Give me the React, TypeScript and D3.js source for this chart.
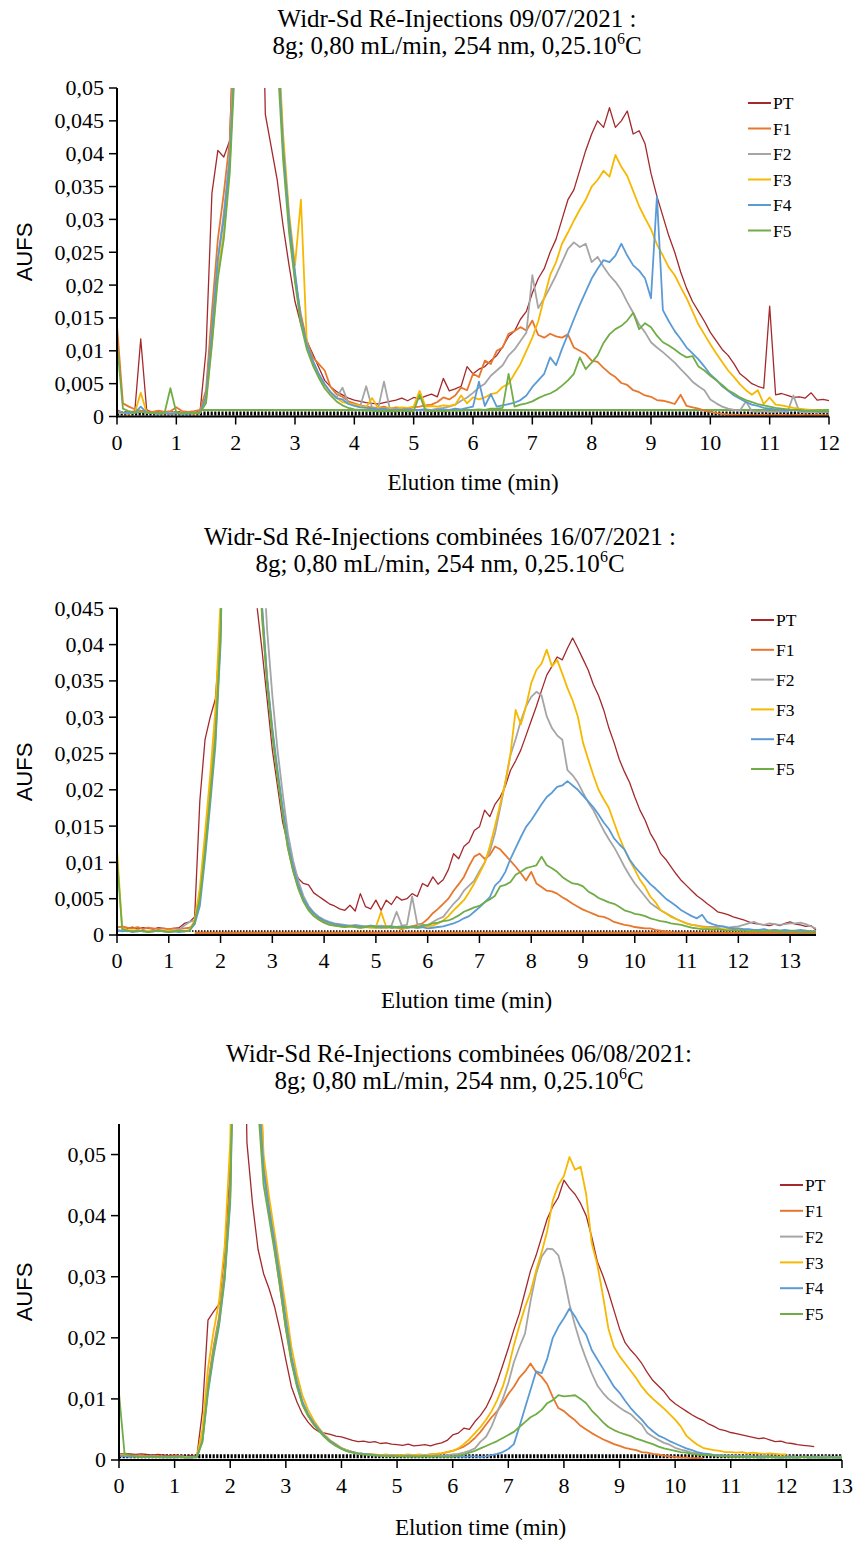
import React from 'react';
import * as d3 from 'd3';

// Chromatograms, AUFS in units of 10^-3, one reading every 0.1 min from t = 0
const seriesNames = ['PT', 'F1', 'F2', 'F3', 'F4', 'F5'];
const seriesColors = ['#a3292c', '#e8772e', '#a5a5a5', '#f6b800', '#5b9bd5', '#70ad47'];
const step = 0.1;

// ---- 09/07/2021 ----
const p1PT = [
  1.0, 0.6, 0.7, 0.8, 11.8, 1.0, 0.6, 0.7, 0.5, 0.6, 0.7, 0.6, 0.5, 0.6, 0.7,
  10, 34, 40.5, 39.5, 42, 70, 120, 150, 150, 90, 46, 41, 36, 29, 23, 17.5,
  14, 11.5, 9.5, 7.5, 5.5, 4.5, 3.8, 3.3, 2.8, 2.5, 2.3, 2.1, 2.0, 1.9, 2.1, 2.3, 2.5, 2.8, 2.4, 2.9,
  2.7, 3.1, 3.4, 3.0, 5.8, 3.9, 4.2, 4.6, 7.6, 6.5, 7.2, 7.6, 8.5, 9.3, 10.6, 12.2, 13.0, 14.8, 16.0, 18.8,
  21.0, 22.5, 25.0, 27.0, 30.0, 33.0, 34.5, 37.5, 40.5, 43.0, 45.0, 44.0, 47.0, 44.0, 45.0, 46.5, 43.0, 43.5, 41.5, 37.0,
  33.5, 30.5, 27.5, 25.0, 22.0, 19.5, 17.5, 16.0, 14.5, 12.8, 11.5, 10.2, 9.3, 8.0, 6.5, 5.8, 5.0, 4.6, 4.3, 16.8,
  3.3, 3.5, 3.2, 2.9, 3.0, 2.8, 3.6, 2.5, 2.6, 2.4,
];
const p1F1 = [
  13.8, 2.0, 1.5, 1.1, 0.9, 0.8, 0.7, 0.9, 0.7, 0.8, 1.4, 0.8, 0.7, 0.8, 1.0,
  4, 16, 27, 34, 42, 65, 150, 150, 150, 150, 150, 130, 60, 41, 29.5, 21,
  15.5, 11.5, 9.0, 8.0, 7.0, 4.5, 3.4, 3.0, 2.3, 2.0, 1.7, 1.5, 1.4, 1.3, 1.5, 1.2, 1.4, 1.3, 1.2, 1.4,
  1.5, 1.7, 1.8, 2.2, 2.9, 2.6, 3.2, 4.4, 4.0, 6.5, 6.0, 8.5, 8.0, 10.0, 10.5, 12.6, 13.0, 13.6, 13.1, 14.6,
  12.4, 12.0, 12.6, 12.2, 12.0, 12.5, 10.5, 10.0, 9.5, 8.5, 8.3, 7.4, 6.6, 6.0, 5.1, 4.8, 4.0, 3.7, 3.2, 3.0,
  2.5, 2.4, 2.2, 1.9, 3.3, 1.6, 1.4, 1.2, 0.9, 0.7, 0.5, 0.4, 0.3, 0.3, 0.2, 0.3, 0.2, 0.2, 0.3, 0.2,
  0.2, 0.3, 0.2, 0.2, 0.3, 0.2, 0.2, 0.3, 0.2, 0.2,
];
const p1F2 = [
  0.8, 0.6, 0.5, 0.6, 0.7, 0.6, 0.5, 0.6, 0.5, 0.6, 0.5, 0.6, 0.5, 0.6, 0.6,
  3, 13, 24, 31, 40, 60, 150, 150, 150, 150, 150, 85, 57, 41, 30, 21.5,
  14.5, 10.8, 8.3, 6.4, 4.9, 3.7, 2.9, 4.4, 2.0, 1.8, 1.6, 4.6, 1.3, 1.2, 5.3, 1.1, 1.0, 1.0, 0.9, 1.0,
  1.0, 1.1, 1.0, 1.2, 1.3, 1.5, 1.8, 2.4, 2.9, 3.6, 4.4, 5.0, 6.2, 7.0, 7.8, 9.3, 10.2, 11.5, 12.8, 21.5,
  16.5, 18.0, 19.7, 21.5, 23.5, 25.5, 26.5, 25.8, 26.3, 23.5, 24.3, 22.8, 21.5, 20.5, 19.2, 17.4, 15.8, 14.0, 12.8, 11.3,
  10.5, 9.8, 9.0, 8.2, 7.2, 6.3, 5.3, 4.6, 4.0, 2.6, 2.0, 1.5, 1.2, 1.0, 0.9, 2.3, 0.8, 0.7, 0.8, 0.7,
  0.7, 0.8, 0.7, 3.2, 0.7, 0.6, 0.7, 0.6, 0.7, 0.6,
];
const p1F3 = [
  0.6, 0.5, 0.4, 0.6, 3.6, 0.6, 0.5, 0.4, 0.5, 0.4, 0.5, 0.4, 0.5, 0.4, 0.5,
  2.5, 11, 22, 28, 38, 60, 150, 150, 150, 150, 150, 90, 60, 43, 31, 23,
  33.0, 11.0, 8.5, 6.4, 4.8, 3.6, 2.8, 2.2, 2.0, 1.8, 1.6, 1.4, 2.8, 1.3, 1.2, 1.3, 1.2, 1.4, 1.3, 1.5,
  3.9, 1.5, 1.6, 1.5, 1.7, 1.6, 1.8, 3.2, 2.0, 2.9, 2.6, 2.9, 3.4, 3.6, 4.5, 5.0, 6.5, 8.0, 10.0, 12.0,
  14.5, 18.1, 21.5, 23.5, 26.3, 28.0, 29.8, 31.5, 33.0, 35.0, 36.0, 37.4, 36.5, 39.8, 38.0, 36.6, 34.3, 32.0, 30.2, 28.5,
  26.2, 24.5, 22.7, 21.5, 19.7, 18.0, 16.0, 14.0, 12.5, 11.0, 9.6, 8.3, 7.0, 6.0, 4.9, 4.0, 3.3, 4.0, 1.9, 2.9,
  1.8, 1.7, 1.5, 1.3, 1.2, 1.1, 1.0, 0.9, 0.9, 0.8,
];
const p1F4 = [
  0.7, 0.6, 0.5, 0.6, 1.5, 0.6, 0.5, 0.4, 0.5, 0.4, 0.5, 0.4, 0.4, 0.5, 0.5,
  3, 13, 24, 30, 39, 58, 150, 150, 150, 150, 150, 85, 58, 41, 30, 22,
  14.8, 11.0, 8.5, 6.5, 4.9, 3.7, 2.8, 2.6, 1.9, 1.6, 1.4, 1.3, 1.2, 1.1, 1.2, 1.0, 1.1, 1.0, 1.1, 1.0,
  1.0, 1.1, 0.9, 1.0, 1.1, 1.0, 1.2, 1.1, 1.3, 1.5, 5.3, 1.6, 3.4, 1.5, 1.7, 1.9, 2.1, 2.5, 3.2, 4.5,
  5.5, 6.5, 9.0, 7.8, 10.3, 12.5, 14.8, 17.0, 19.0, 21.0, 22.5, 23.8, 23.5, 24.5, 26.3, 24.5, 23.0, 22.2, 21.0, 18.0,
  33.5, 16.2, 14.5, 13.0, 11.8, 10.5, 9.6, 8.7, 7.6, 6.4, 5.6, 4.6, 3.9, 3.2, 2.7, 2.2, 1.8, 1.6, 1.3, 1.2,
  1.1, 1.0, 0.9, 1.0, 0.9, 0.8, 0.9, 0.8, 0.8, 0.7,
];
const p1F5 = [
  11.2, 1.2, 0.8, 0.6, 0.7, 0.6, 0.5, 0.6, 0.5, 4.3, 0.6, 0.5, 0.6, 0.5, 0.6,
  2, 11, 21, 27, 37, 56, 150, 150, 150, 150, 150, 80, 55, 39, 28, 20.5,
  14.0, 10.2, 7.8, 5.9, 4.3, 3.2, 2.3, 1.7, 1.3, 1.1, 1.0, 0.9, 0.9, 0.8, 0.8, 0.8, 0.8, 0.9, 0.8, 0.8,
  3.3, 0.9, 0.8, 0.9, 0.8, 0.9, 0.9, 0.9, 1.0, 1.0, 1.1, 1.0, 1.2, 1.2, 1.3, 6.5, 1.5, 1.8, 2.0, 2.3,
  2.8, 3.2, 3.5, 4.0, 4.7, 5.5, 6.5, 9.0, 7.2, 8.2, 9.3, 11.2, 12.5, 13.3, 13.8, 14.6, 15.8, 13.3, 14.2, 13.6,
  12.3, 11.3, 10.8, 10.2, 9.5, 9.0, 9.2, 7.6, 7.0, 6.2, 5.5, 4.8, 4.0, 3.5, 2.9, 2.5, 2.2, 1.9, 1.7, 1.5,
  1.3, 1.2, 1.1, 1.0, 1.0, 0.9, 0.9, 0.8, 0.8, 0.8,
];

// ---- 16/07/2021 ----
const p2PT = [
  1.0, 1.2, 0.9, 1.1, 0.8, 1.0, 0.9, 0.8, 1.0, 0.9, 0.8, 0.9, 1.0, 1.6, 1.8,
  2.5, 18.5, 26.9, 30.0, 32.5, 42, 80, 150, 150, 150, 150, 70, 45.5, 39.3, 32.4, 25.5,
  20.5, 15.5, 12.5, 9.5, 7.8, 7.1, 6.9, 5.8, 5.3, 4.8, 4.3, 4.0, 3.6, 3.4, 4.1, 3.3, 5.7, 3.9, 3.6, 4.8,
  3.4, 4.8, 4.2, 5.3, 4.8, 5.0, 5.7, 5.3, 7.1, 6.7, 8.0, 7.0, 7.6, 9.0, 11.2, 10.5, 12.2, 12.8, 14.4, 14.9,
  17.2, 16.3, 18.0, 19.0, 20.5, 22.7, 24.0, 25.5, 27.5, 29.5, 31.5, 33.7, 35.8, 37.0, 38.3, 37.9, 39.5, 40.9, 39.5, 38.0,
  36.5, 34.5, 33.0, 31.0, 28.5, 26.5, 24.2, 22.5, 21.0, 19.0, 17.2, 15.8, 14.0, 12.8, 11.2, 10.4, 9.4, 8.4, 7.5, 6.8,
  6.1, 5.4, 4.9, 4.3, 3.8, 3.2, 3.0, 2.8, 2.5, 2.3, 2.1, 1.8, 1.6, 1.5, 1.4, 1.3, 1.5, 1.3, 1.6, 1.8,
  1.5, 1.4, 1.2, 1.3, 0.7,
];
const p2F1 = [
  1.0, 1.2, 1.0, 0.9, 1.1, 0.8, 1.0, 0.9, 0.8, 0.9, 0.8, 0.9, 0.8, 0.9, 1.0,
  1.5, 5, 12, 20, 28.5, 43, 80, 150, 150, 150, 150, 110, 62, 45, 35, 28,
  22.0, 17.0, 12.0, 9.0, 6.6, 4.8, 3.6, 2.8, 2.3, 1.8, 1.5, 1.4, 1.3, 1.2, 1.3, 1.2, 1.1, 1.2, 1.1, 1.0,
  1.1, 1.0, 1.1, 1.0, 0.8, 1.0, 1.2, 1.4, 1.6, 2.2, 3.0, 3.6, 4.3, 5.0, 6.1, 7.0, 8.0, 9.5, 10.8, 11.2,
  10.5, 11.0, 12.2, 11.8, 11.0, 10.2, 9.4, 8.5, 7.5, 8.7, 7.1, 6.6, 6.1, 6.0, 5.7, 5.2, 4.8, 4.3, 3.9, 3.5,
  3.2, 2.9, 2.6, 2.5, 2.2, 1.8, 1.6, 1.4, 1.3, 1.1, 1.0, 0.9, 0.9, 0.7, 0.6, 0.5, 0.4, 0.3, 0.3, 0.2,
  0.2, 0.3, 0.2, 0.2, 0.3, 0.2, 0.2, 0.3, 0.2, 0.2, 0.3, 0.2, 0.2, 0.3, 0.2, 0.2, 0.3, 0.2, 0.2, 0.2,
  0.2, 0.3, 0.2, 0.2, 0.2,
];
const p2F2 = [
  0.7, 0.6, 0.5, 0.6, 0.5, 0.6, 0.5, 0.6, 0.5, 0.6, 0.5, 0.6, 0.7, 1.3, 1.8,
  2, 5, 12, 19.5, 28, 42, 80, 150, 150, 150, 150, 150, 100, 55, 42, 33,
  25.5, 19.5, 14.0, 10.3, 7.5, 5.4, 4.0, 3.1, 2.5, 2.1, 1.8, 1.6, 1.5, 1.4, 1.3, 1.4, 1.3, 1.2, 1.3, 1.2,
  1.3, 1.2, 1.3, 3.2, 1.3, 1.4, 5.3, 1.5, 1.4, 1.3, 1.8, 2.2, 2.5, 3.4, 4.3, 5.0, 6.1, 6.8, 7.5, 8.8,
  10.0, 11.5, 14.0, 17.5, 21.0, 24.8, 27.0, 29.5, 31.5, 32.8, 33.5, 33.0, 30.1, 28.5, 27.5, 26.9, 22.7, 22.0, 21.0, 19.6,
  18.3, 17.2, 15.8, 14.4, 13.2, 12.1, 10.8, 9.4, 8.2, 7.1, 6.2, 5.3, 4.4, 3.9, 3.4, 3.0, 2.6, 2.2, 1.9, 1.6,
  1.4, 1.3, 1.2, 1.1, 1.1, 1.1, 1.2, 1.0, 1.1, 1.2, 1.4, 1.6, 1.8, 1.5, 1.4, 1.6, 1.5, 1.4, 1.5, 1.6,
  1.6, 1.7, 1.5, 1.2, 0.9,
];
const p2F3 = [
  11.7, 1.0, 0.7, 0.6, 0.7, 0.5, 0.6, 0.5, 0.6, 0.5, 0.6, 0.5, 0.6, 0.5, 0.7,
  2, 6.5, 14, 22, 31, 46, 85, 150, 150, 150, 150, 110, 60, 44, 35, 28,
  22.0, 17.0, 12.2, 9.0, 6.5, 4.7, 3.5, 2.7, 2.1, 1.7, 1.5, 1.3, 1.2, 1.1, 1.2, 1.1, 1.0, 1.1, 1.0, 1.1,
  3.2, 1.1, 1.0, 1.1, 0.9, 1.0, 1.1, 1.0, 1.1, 1.2, 1.3, 1.6, 2.0, 2.6, 3.4, 4.1, 4.8, 5.9, 7.1, 8.5,
  9.9, 12.2, 15.0, 18.0, 21.0, 25.0, 31.0, 29.0, 31.5, 34.7, 36.5, 37.4, 39.3, 37.0, 37.9, 36.0, 34.0, 32.3, 30.1, 26.5,
  24.2, 22.0, 20.0, 18.7, 17.5, 15.5, 13.5, 11.8, 10.3, 9.0, 7.6, 6.6, 5.3, 4.5, 3.4, 3.0, 2.5, 2.2, 1.9, 1.6,
  1.4, 1.3, 1.1, 1.0, 0.9, 0.9, 0.8, 0.8, 0.7, 0.8, 0.7, 0.7, 0.6, 0.7, 0.6, 0.6, 0.7, 0.6, 0.6, 0.5,
  0.6, 0.5, 0.6, 0.5, 0.5,
];
const p2F4 = [
  0.6, 0.5, 0.6, 0.4, 0.5, 0.6, 0.4, 0.5, 0.6, 0.5, 0.4, 0.5, 0.4, 0.5, 0.6,
  1.5, 4, 10.5, 18, 26, 40, 75, 150, 150, 150, 150, 115, 62, 45.5, 35.5, 28.5,
  22.8, 17.5, 12.8, 9.4, 6.9, 5.0, 3.8, 3.0, 2.4, 2.0, 1.7, 1.5, 1.4, 1.3, 1.2, 1.3, 1.2, 1.1, 1.3, 1.2,
  1.1, 1.2, 1.0, 1.1, 1.2, 1.0, 1.1, 1.0, 1.1, 0.9, 1.0, 1.1, 1.2, 1.4, 1.6, 1.9, 2.3, 2.6, 3.2, 3.8,
  4.5, 5.2, 6.8, 7.5, 8.7, 10.5, 12.0, 13.5, 14.9, 15.8, 16.9, 18.0, 19.0, 19.6, 20.4, 20.6, 21.2, 20.6, 20.0, 19.2,
  18.4, 17.6, 16.6, 15.5, 14.6, 13.3, 12.5, 11.8, 10.4, 9.4, 8.6, 7.8, 7.0, 6.4, 5.7, 5.0, 4.5, 4.0, 3.4, 3.0,
  2.6, 2.3, 2.8, 1.8, 1.5, 1.3, 1.2, 1.0, 0.9, 0.9, 0.8, 0.8, 0.7, 0.7, 0.8, 0.6, 0.7, 0.6, 0.7, 0.6,
  0.6, 0.7, 0.6, 0.5, 0.5,
];
const p2F5 = [
  10.5, 0.8, 0.6, 0.5, 0.6, 0.5, 0.4, 0.5, 0.6, 0.5, 0.4, 0.5, 0.6, 0.5, 0.6,
  1.8, 5, 11.5, 19, 27, 41, 78, 150, 150, 150, 150, 105, 60, 44, 34.5, 27.5,
  21.8, 16.5, 12.0, 8.8, 6.4, 4.6, 3.4, 2.6, 2.1, 1.7, 1.4, 1.3, 1.2, 1.1, 1.2, 1.1, 1.0, 1.1, 1.2, 1.1,
  1.0, 1.1, 1.2, 1.1, 1.0, 1.1, 1.2, 1.1, 1.3, 1.4, 1.6, 1.7, 1.9, 2.0, 2.3, 2.7, 3.2, 3.5, 3.8, 4.0,
  4.5, 4.9, 5.4, 6.7, 6.9, 7.3, 8.3, 8.7, 9.2, 9.4, 9.6, 10.8, 9.6, 9.2, 8.7, 8.0, 7.5, 7.1, 7.0, 6.7,
  6.0, 5.6, 5.1, 4.8, 4.5, 4.3, 3.9, 3.4, 3.2, 2.9, 2.8, 2.6, 2.3, 2.1, 1.9, 1.8, 1.6, 1.5, 1.4, 1.2,
  1.0, 0.9, 0.8, 0.8, 0.7, 0.8, 0.7, 0.6, 0.7, 0.6, 0.6, 0.5, 0.6, 0.5, 0.5, 0.6, 0.5, 0.5, 0.4, 0.5,
  0.5, 0.4, 0.5, 0.4, 0.4,
];

// ---- 06/08/2021 ----
const p3PT = [
  1.0, 1.1, 1.0, 0.9, 1.0, 0.9, 0.8, 0.9, 0.8, 0.7, 0.8, 0.7, 0.6, 0.7, 0.6,
  8, 22.9, 24.3, 25.5, 33.8, 48, 100, 110, 52, 42, 34.5, 30.5, 28, 25, 21, 16.4,
  12.0, 9.5, 7.5, 6.2, 5.2, 4.6, 4.4, 4.2, 3.9, 3.8, 3.5, 3.2, 3.0, 3.1, 2.9, 3.0, 2.7, 2.8, 2.6, 2.5,
  2.4, 2.6, 2.3, 2.4, 2.5, 2.3, 2.6, 2.8, 3.2, 4.1, 4.4, 5.2, 5.0, 6.3, 7.3, 8.6, 10.5, 12.8, 15.5, 18.3,
  21.3, 24.0, 27.5, 31.0, 33.5, 36.5, 39.5, 41.5, 43.0, 45.8, 44.5, 43.5, 42.0, 40.0, 36.5, 32.5, 30.2, 27.5, 24.5, 21.5,
  19.2, 18.0, 17.0, 15.8, 14.3, 13.0, 12.1, 11.2, 10.0, 9.2, 8.6, 8.0, 7.4, 6.9, 6.5, 5.9, 5.5, 5.0, 4.8, 4.5,
  4.3, 4.1, 3.9, 3.7, 3.5, 3.6, 3.3, 3.0, 3.1, 2.8, 2.7, 2.5, 2.4, 2.3, 2.2,
];
const p3F1 = [
  0.9, 1.0, 0.8, 0.7, 0.8, 0.6, 0.7, 0.6, 0.5, 0.6, 0.5, 0.6, 0.5, 0.4, 0.5,
  3.5, 12.5, 18.5, 23.5, 31, 45, 90, 150, 150, 150, 75, 48, 41.5, 34.5, 28, 21.5,
  16.3, 12.3, 9.2, 7.3, 5.9, 4.8, 3.8, 3.0, 2.4, 1.9, 1.5, 1.3, 1.1, 1.0, 0.9, 0.8, 0.8, 0.7, 0.8, 0.7,
  0.7, 0.8, 0.7, 0.7, 0.8, 0.9, 1.0, 1.1, 1.3, 1.5, 1.8, 2.2, 2.8, 3.6, 4.6, 5.8, 7.0, 8.0, 9.3, 10.8,
  12.0, 13.5, 14.5, 15.8, 14.4, 13.6, 12.4, 10.3, 8.5, 8.0, 7.2, 6.5, 5.6, 5.0, 4.4, 3.9, 3.4, 3.0, 2.6, 2.3,
  2.0, 1.8, 1.6, 1.3, 1.2, 1.0, 0.9, 0.7, 0.6, 0.5, 0.4, 0.4, 0.3, 0.3, 0.3,
];
const p3F2 = [
  0.8, 0.7, 0.6, 0.7, 0.6, 0.5, 0.6, 0.5, 0.6, 0.5, 0.5, 0.6, 0.5, 0.5, 0.5,
  3.5, 12, 18, 23, 30.5, 44, 90, 150, 150, 150, 62, 47, 40.5, 35, 29, 22.5,
  16.6, 12.5, 9.3, 7.4, 6.0, 4.9, 3.9, 3.1, 2.5, 1.9, 1.6, 1.3, 1.1, 1.0, 0.9, 0.8, 0.8, 0.7, 0.7, 0.7,
  0.7, 0.6, 0.7, 0.6, 0.7, 0.6, 0.7, 0.7, 0.8, 0.9, 1.0, 1.2, 1.5, 1.9, 3.0, 3.8, 5.5, 7.8, 10.0, 12.6,
  16.0, 18.5, 20.7, 26.0, 30.5, 33.3, 34.6, 34.5, 33.5, 30.0, 25.5, 22.0, 19.0, 16.5, 14.2, 12.2, 11.0, 10.0, 9.3, 8.6,
  8.0, 7.5, 6.6, 5.8, 4.4, 3.8, 3.3, 2.8, 2.5, 2.0, 1.7, 1.5, 1.2, 1.1, 1.0, 0.9, 0.8, 0.8, 0.7, 0.7,
  0.7, 0.6, 0.7, 0.6, 0.6, 0.7, 0.6, 0.6, 0.5, 0.6, 0.6, 0.5, 0.6, 0.5, 0.6, 0.5, 0.6, 0.5, 0.5, 0.6,
];
const p3F3 = [
  0.8, 0.7, 0.6, 0.6, 0.5, 0.6, 0.5, 0.6, 0.5, 0.5, 0.6, 0.5, 0.5, 0.5, 0.6,
  5, 15, 21, 26, 35, 52, 100, 150, 150, 150, 70, 50, 43, 37, 31, 25,
  18.5, 14.0, 10.5, 8.2, 6.5, 5.2, 4.1, 3.2, 2.6, 2.0, 1.6, 1.3, 1.1, 1.0, 1.0, 0.9, 0.8, 0.9, 0.8, 0.8,
  0.8, 0.9, 0.8, 0.9, 0.8, 0.9, 1.0, 1.1, 1.3, 1.5, 1.9, 2.6, 3.4, 4.4, 5.4, 6.6, 8.0, 9.8, 12.0, 15.0,
  18.8, 22.0, 25.0, 27.5, 31.0, 34.0, 37.5, 42.5, 45.0, 46.5, 49.6, 47.5, 48.0, 43.5, 35.5, 32.0, 27.0, 21.5, 18.5, 17.0,
  15.8, 14.6, 13.4, 12.0, 10.9, 10.0, 9.2, 8.4, 7.5, 6.6, 5.5, 4.0, 3.2, 2.5, 2.0, 1.8, 1.6, 1.5, 1.3, 1.3,
  1.2, 1.3, 1.1, 1.2, 1.1, 1.0, 1.1, 1.0, 0.9, 0.9,
];
const p3F4 = [
  0.7, 0.6, 0.5, 0.6, 0.5, 0.5, 0.6, 0.5, 0.5, 0.4, 0.5, 0.5, 0.4, 0.5, 0.5,
  3, 11, 17, 22, 29.5, 42, 85, 150, 150, 150, 62, 47.5, 41, 35.5, 29.5, 23,
  17.0, 12.8, 9.5, 7.5, 6.1, 5.0, 3.9, 3.1, 2.5, 1.9, 1.5, 1.3, 1.1, 1.0, 0.9, 0.8, 0.7, 0.7, 0.7, 0.6,
  0.6, 0.7, 0.6, 0.6, 0.7, 0.6, 0.6, 0.5, 0.6, 0.5, 0.6, 0.5, 0.6, 0.6, 0.5, 0.6, 0.8, 1.0, 1.3, 1.8,
  2.6, 5.5, 8.5, 11.5, 14.5, 14.2, 16.6, 20.0, 21.8, 23.2, 24.8, 23.5, 21.8, 20.5, 18.0, 16.5, 15.0, 13.5, 12.0, 11.0,
  9.7, 8.5, 7.5, 6.6, 5.5, 4.7, 4.0, 3.6, 3.1, 2.7, 2.3, 1.9, 1.6, 1.3, 1.1, 1.0, 0.8, 0.7, 0.7, 0.6,
  0.6, 0.5, 0.6, 0.5, 0.5, 0.6, 0.5, 0.5, 0.4, 0.5, 0.5, 0.4, 0.5, 0.4, 0.5, 0.4, 0.4, 0.5, 0.4, 0.4,
];
const p3F5 = [
  10.9, 1.0, 0.7, 0.6, 0.5, 0.6, 0.5, 0.5, 0.4, 0.5, 0.4, 0.5, 0.4, 0.4, 0.5,
  3, 11.5, 17.5, 22.5, 30, 43, 88, 150, 150, 150, 58, 45, 39.5, 34, 28, 21.5,
  16.0, 12.0, 9.0, 7.2, 5.8, 4.7, 3.7, 2.9, 2.3, 1.8, 1.4, 1.2, 1.0, 0.9, 0.8, 0.7, 0.7, 0.6, 0.6, 0.6,
  0.6, 0.5, 0.6, 0.5, 0.6, 0.5, 0.6, 0.6, 0.5, 0.6, 0.7, 0.9, 1.2, 1.5, 1.9, 2.3, 2.7, 3.1, 3.6, 4.1,
  4.6, 5.4, 6.2, 7.0, 7.5, 8.2, 9.3, 9.8, 10.6, 10.4, 10.5, 10.6, 10.0, 9.3, 8.1, 7.2, 6.2, 5.4, 4.9, 4.5,
  4.2, 3.9, 3.5, 3.2, 2.9, 2.6, 2.2, 1.9, 1.7, 1.5, 1.3, 1.2, 1.0, 0.9, 0.8, 0.8, 0.7, 0.6, 0.6, 0.5,
  0.5, 0.5, 0.4, 0.5, 0.4, 0.4, 0.5, 0.4, 0.4, 0.4, 0.4, 0.4, 0.5, 0.4, 0.4, 0.4, 0.4, 0.4, 0.4, 0.4,
];

// flat blank traces lying on the baseline: [from, to, level]
const p1Blank = [1.4, 12, 1.0];
const p2Blank = [1.5, 13.5, 0.25];

const yTicks1 = [0, 5, 10, 15, 20, 25, 30, 35, 40, 45, 50];
const yTicks2 = [0, 5, 10, 15, 20, 25, 30, 35, 40, 45];
const yTicks3 = [0, 10, 20, 30, 40, 50];
const xTicks1 = [0, 1, 2, 3, 4, 5, 6, 7, 8, 9, 10, 11, 12];
const xTicks23 = [0, 1, 2, 3, 4, 5, 6, 7, 8, 9, 10, 11, 12, 13];

const panels = [
  {
    id: 'p1', title: 'Widr-Sd Ré-Injections 09/07/2021 :', titleX: 457, titleY: 27,
    left: 117, right: 829, top: 88, bottom: 416.5, xMax: 12, yMax: 50,
    yTicks: yTicks1, xTicks: xTicks1, tickY: 450, axisTitleY: 490, aufsY: 252,
    legendX: 748, legendY: 103, legendGap: 25.5,
    series: [p1PT, p1F1, p1F2, p1F3, p1F4, p1F5],
    blank: p1Blank, blankColor: seriesColors[5], blankWidth: 2,
    refLevel: 0.45, refWidth: 4, refDash: '2.2 1.4',
  },
  {
    id: 'p2', title: 'Widr-Sd Ré-Injections combinées 16/07/2021 :', titleX: 440, titleY: 545,
    left: 117, right: 816, top: 608.3, bottom: 935, xMax: 13.5, yMax: 45,
    yTicks: yTicks2, xTicks: xTicks23, tickY: 968, axisTitleY: 1008, aufsY: 772,
    legendX: 751, legendY: 620, legendGap: 29.8,
    series: [p2PT, p2F1, p2F2, p2F3, p2F4, p2F5],
    blank: p2Blank, blankColor: seriesColors[1], blankWidth: 3.2,
    refLevel: 0.55, refWidth: 1.3, refDash: '1.5 1.5',
  },
  {
    id: 'p3', title: 'Widr-Sd Ré-Injections combinées 06/08/2021:', titleX: 459, titleY: 1062,
    left: 119, right: 842, top: 1124, bottom: 1460, xMax: 13, yMax: 55,
    yTicks: yTicks3, xTicks: xTicks23, tickY: 1493, axisTitleY: 1535, aufsY: 1292,
    legendX: 780, legendY: 1185, legendGap: 25.8,
    series: [p3PT, p3F1, p3F2, p3F3, p3F4, p3F5],
    blank: null, blankColor: '', blankWidth: 0,
    refLevel: 0.6, refWidth: 4, refDash: '2.2 1.4',
  },
];

const serif = '"Liberation Serif", "Times New Roman", serif';
const fmtY = (v: number) => (v === 0 ? '0' : String(v / 1000).replace('.', ','));

function Panel({ p }: { p: any }) {
  const x = d3.scaleLinear().domain([0, p.xMax]).range([p.left, p.right]);
  const y = d3.scaleLinear().domain([0, p.yMax]).range([p.bottom, p.top]);
  const line = d3.line<number>().x((_, i) => x(i * step)).y((v) => y(v));
  const flat = d3.line<number[]>().x((d) => x(d[0])).y((d) => y(d[1]));
  const cx = (p.left + p.right) / 2;

  return (
    <g>
      <defs>
        <clipPath id={'clip-' + p.id}>
          <rect x={p.left} y={p.top} width={p.right - p.left + 2} height={p.bottom - p.top + 4} />
        </clipPath>
      </defs>

      <text x={p.titleX} y={p.titleY} textAnchor="middle" fontFamily={serif} fontSize={25}>{p.title}</text>
      <text x={p.titleX} y={p.titleY + 27} textAnchor="middle" fontFamily={serif} fontSize={25}>
        8g; 0,80 mL/min, 254 nm, 0,25.10<tspan dy={-10} fontSize={16}>6</tspan><tspan dy={10}>C</tspan>
      </text>

      <g clipPath={`url(#clip-${p.id})`}>
        {p.blank && (
          <path d={flat([[p.blank[0], p.blank[2]], [p.blank[1], p.blank[2]]]) || ''}
            fill="none" stroke={p.blankColor} strokeWidth={p.blankWidth} />
        )}
        <path d={flat([[0, p.refLevel], [p.xMax, p.refLevel]]) || ''}
          fill="none" stroke="#000" strokeWidth={p.refWidth} strokeDasharray={p.refDash} />
        {p.series.map((s: number[], k: number) => (
          <path key={k} d={line(s) || ''} fill="none" stroke={seriesColors[k]}
            strokeWidth={k === 0 ? 1.3 : 1.8} strokeLinejoin="round" />
        ))}
      </g>

      <line x1={p.left} x2={p.left} y1={p.top} y2={p.bottom + 1} stroke="#000" strokeWidth={2} />
      <line x1={p.left - 1} x2={p.right} y1={p.bottom} y2={p.bottom} stroke="#000" strokeWidth={2} />
      {p.yTicks.map((t: number) => (
        <g key={'y' + t}>
          <line x1={p.left - 8} x2={p.left} y1={y(t)} y2={y(t)} stroke="#000" strokeWidth={1.5} />
          <text x={p.left - 13} y={y(t)} dy="0.34em" textAnchor="end" fontFamily={serif} fontSize={22}>{fmtY(t)}</text>
        </g>
      ))}
      {p.xTicks.map((t: number) => (
        <g key={'x' + t}>
          <line x1={x(t)} x2={x(t)} y1={p.bottom} y2={p.bottom + 8} stroke="#000" strokeWidth={1.5} />
          <text x={x(t)} y={p.tickY} textAnchor="middle" fontFamily={serif} fontSize={22}>{t}</text>
        </g>
      ))}

      <text x={cx} y={p.axisTitleY} textAnchor="middle" fontFamily={serif} fontSize={23}>Elution time (min)</text>
      <text transform={`translate(32,${p.aufsY}) rotate(-90)`} textAnchor="middle"
        fontFamily='"Liberation Sans", Arial, sans-serif' fontSize={22}>AUFS</text>

      {seriesNames.map((name, k) => {
        const ly = p.legendY + k * p.legendGap;
        return (
          <g key={name}>
            <line x1={p.legendX} x2={p.legendX + 23} y1={ly} y2={ly} stroke={seriesColors[k]} strokeWidth={2} />
            <text x={p.legendX + 25} y={ly} dy="0.35em" fontFamily={serif} fontSize={17.5}>{name}</text>
          </g>
        );
      })}
    </g>
  );
}

export default function App() {
  return (
    <svg width={855} height={1541} style={{ position: 'absolute', left: 0, top: 0, background: '#fff' }}>
      {panels.map((p) => <Panel key={p.id} p={p} />)}
    </svg>
  );
}
